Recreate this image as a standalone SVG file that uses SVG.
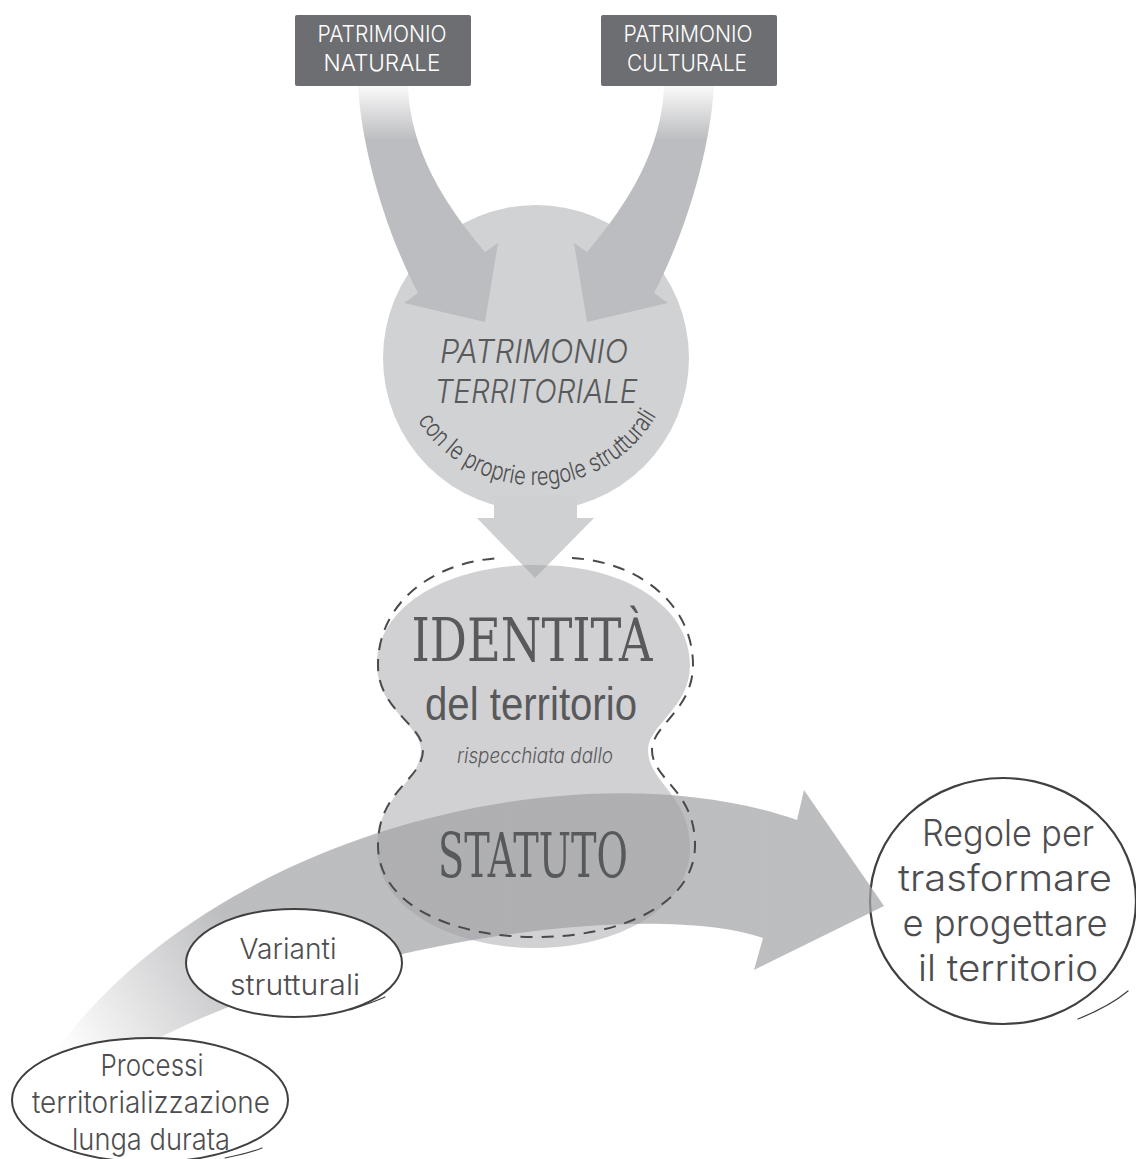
<svg xmlns="http://www.w3.org/2000/svg" width="1136" height="1159" viewBox="0 0 1136 1159">
  <style>
    .box { fill: #6d6e71; }
    .boxtxt { font-family: Inter, "Liberation Sans", Arial, sans-serif; font-weight: 300; font-size: 23px; fill: #ffffff; text-anchor: middle; }
    .hand { font-family: Inter, "Liberation Sans", Arial, sans-serif; font-weight: 300; fill: #4d4d4f; text-anchor: middle; }
    .handit { font-family: Inter, "Liberation Sans", Arial, sans-serif; font-weight: 300; font-style: italic; fill: #58595b; text-anchor: middle; }
    .slab { font-family: "DejaVu Serif", "Liberation Serif", serif; fill: #58595b; text-anchor: middle; }
    .sans { font-family: "Liberation Sans", Arial, sans-serif; fill: #58595b; text-anchor: middle; }
    .outline { fill: #ffffff; stroke: #404041; stroke-width: 2; }
    .ring { fill: #ffffff; stroke: #404041; stroke-width: 2.2; }
    .tail { fill: none; stroke: #404041; stroke-width: 1.2; stroke-linecap: round; }
  </style>
  <defs>
    <linearGradient id="fadeDown" gradientUnits="userSpaceOnUse" x1="0" y1="88" x2="0" y2="140">
      <stop offset="0" stop-color="#f7f7f7"/>
      <stop offset="1" stop-color="#bcbdc0"/>
    </linearGradient>
    <linearGradient id="fadeBand" gradientUnits="userSpaceOnUse" x1="70" y1="1045" x2="240" y2="940">
      <stop offset="0" stop-color="#a3a4a7" stop-opacity="0.03"/>
      <stop offset="1" stop-color="#a3a4a7" stop-opacity="0.72"/>
    </linearGradient>
    <path id="arcText" d="M416,418 A140,140 0 0 0 658,413"/>
  </defs>

  <!-- territorial heritage disc -->
  <g id="territoriale">
    <circle cx="536" cy="358" r="153" fill="#d1d2d4"/>
    <text class="handit" x="534" y="363" font-size="33" textLength="188" lengthAdjust="spacingAndGlyphs">PATRIMONIO</text>
    <text class="handit" x="536" y="403" font-size="33" textLength="203" lengthAdjust="spacingAndGlyphs">TERRITORIALE</text>
    <text class="hand" font-size="25" fill="#58595b"><textPath href="#arcText" startOffset="50%" textLength="286" lengthAdjust="spacingAndGlyphs">con le proprie regole strutturali</textPath></text>
  </g>

  <!-- rules circle on the right -->
  <g id="regole">
    <ellipse class="ring" cx="1003" cy="901" rx="133" ry="123"/>
    <path class="tail" d="M1078,1019 C1098,1011 1116,1001 1128,991"/>
    <text class="hand" x="1008" y="846" font-size="37" textLength="172" lengthAdjust="spacingAndGlyphs">Regole per</text>
    <text class="hand" x="1005" y="891" font-size="37" textLength="214" lengthAdjust="spacingAndGlyphs">trasformare</text>
    <text class="hand" x="1005" y="936" font-size="37" textLength="205" lengthAdjust="spacingAndGlyphs">e progettare</text>
    <text class="hand" x="1008" y="981" font-size="37" textLength="180" lengthAdjust="spacingAndGlyphs">il territorio</text>
  </g>

  <!-- flows between the elements -->
  <g id="connectors">
    <path fill="url(#fadeDown)" d="M358,86 C362,150 385,230 418,293 L404,303 L485,322 L498,243 L485,252 C445,205 410,150 408,86 Z"/>
    <path fill="url(#fadeDown)" d="M714,86 C710,150 687,230 654,293 L668,303 L587,322 L574,243 L587,252 C627,205 662,150 664,86 Z"/>
    <path fill="#cfd0d2" d="M494,495 L577,495 L577,518 L594,518 L535,578 L477,518 L494,518 Z"/>
    <path fill="url(#fadeBand)" d="M58,1048 C220,830 580,745 797,820 L804,790 L884,906 L754,970 L763,938 C640,895 260,950 70,1092 Z"/>
  </g>

  <!-- identity / statute shape -->
  <g id="identita">
    <path fill="#a1a2a5" fill-opacity="0.49" d="M536,565 C628,565 690,608 690,665 C690,708 648,725 648,750 C648,782 690,795 690,848 C690,910 615,948 536,948 C455,948 377,910 377,848 C377,795 421,782 421,750 C421,725 377,708 377,665 C377,608 444,565 536,565 Z"/>
    <path fill="none" stroke="#4a4a4c" stroke-width="2" stroke-dasharray="12 9" d="M572,558 C640,562 693,605 693,665 C693,710 652,725 652,750 C652,780 695,790 695,845 C695,905 620,937 536,937 C452,937 378,905 378,845 C378,790 423,780 423,750 C423,725 378,710 378,665 C378,605 430,562 500,558"/>
    <text class="slab" x="532" y="661" font-size="60" textLength="241" lengthAdjust="spacingAndGlyphs">IDENTITÀ</text>
    <text class="sans" x="531" y="720" font-size="46" textLength="212" lengthAdjust="spacingAndGlyphs">del territorio</text>
    <text class="handit" x="535" y="763" font-size="21" textLength="156" lengthAdjust="spacingAndGlyphs">rispecchiata dallo</text>
    <text class="slab" x="533" y="877" font-size="62" textLength="190" lengthAdjust="spacingAndGlyphs">STATUTO</text>
  </g>

  <!-- structural variants -->
  <g id="varianti">
    <ellipse class="outline" cx="294" cy="963" rx="108" ry="54"/>
    <path class="tail" d="M350,1010 C362,1006 374,1002 385,997"/>
    <text class="hand" x="288" y="959" font-size="29" textLength="97" lengthAdjust="spacingAndGlyphs">Varianti</text>
    <text class="hand" x="295" y="995" font-size="29" textLength="130" lengthAdjust="spacingAndGlyphs">strutturali</text>
  </g>

  <!-- long-term territorialisation processes -->
  <g id="processi">
    <ellipse class="outline" cx="150" cy="1100" rx="138" ry="62"/>
    <path class="tail" d="M225,1158 C240,1155 252,1152 262,1148"/>
    <text class="hand" x="152" y="1076" font-size="30" textLength="103" lengthAdjust="spacingAndGlyphs">Processi</text>
    <text class="hand" x="151" y="1113" font-size="30" textLength="238" lengthAdjust="spacingAndGlyphs">territorializzazione</text>
    <text class="hand" x="151" y="1150" font-size="30" textLength="158" lengthAdjust="spacingAndGlyphs">lunga durata</text>
  </g>

  <!-- heritage sources -->
  <g id="naturale">
    <rect class="box" x="295" y="15" width="176" height="71" rx="2"/>
    <text class="boxtxt" x="382" y="42" textLength="129" lengthAdjust="spacingAndGlyphs">PATRIMONIO</text>
    <text class="boxtxt" x="382" y="71" textLength="117" lengthAdjust="spacingAndGlyphs">NATURALE</text>
  </g>
  <g id="culturale">
    <rect class="box" x="601" y="15" width="176" height="71" rx="2"/>
    <text class="boxtxt" x="688" y="42" textLength="129" lengthAdjust="spacingAndGlyphs">PATRIMONIO</text>
    <text class="boxtxt" x="687" y="71" textLength="120" lengthAdjust="spacingAndGlyphs">CULTURALE</text>
  </g>
</svg>
